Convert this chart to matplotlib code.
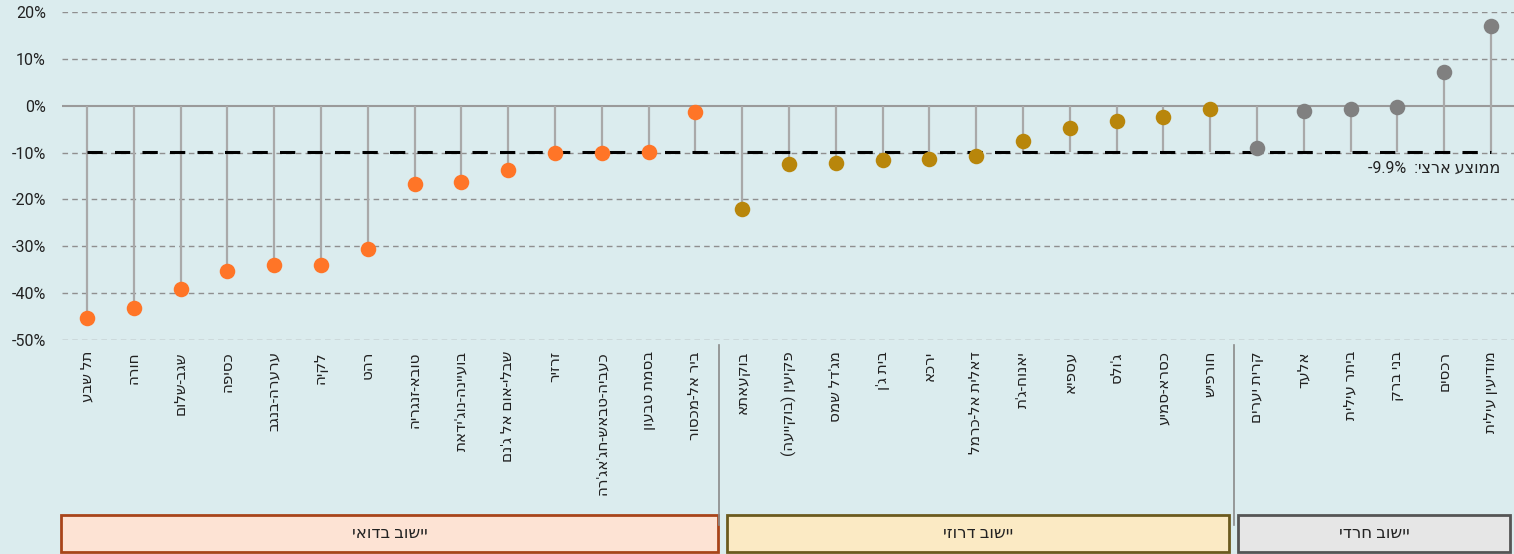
import matplotlib
matplotlib.use("Agg")
import matplotlib.pyplot as plt
from matplotlib.patches import Rectangle
import numpy as np

plt.rcParams['font.family'] = ['Roboto', 'DejaVu Sans']
plt.rcParams['axes.unicode_minus'] = False

# Localities by sector (change in %, relative to national average)
bedouin_names = ["תל שבע", "חורה", "שגב-שלום", "כסיפה", "ערערה-בנגב", "לקיה", "רהט",
                 "טובא-זנגריה", "בועיינה-נוג'ידאת", "שבלי-אום אל ג'נם", "זרזיר",
                 "כעביה-טבאש-חג'אג'רה", "בסמת טבעון", "ביר אל-מכסור"]
bedouin_values = [-45.4, -43.1, -39.2, -35.3, -34.0, -34.0, -30.6,
                  -16.7, -16.2, -13.8, -10.1, -10.0, -9.8, -1.4]

druze_names = ["בוקעאתא", "פקיעין (בוקייעה)", "מג'דל שמס", "בית ג'ן", "ירכא",
               "דאלית אל-כרמל", "יאנוח-ג'ת", "עספיא", "ג'ולס", "כסרא-סמיע", "חורפיש"]
druze_values = [-22.1, -12.5, -12.3, -11.5, -11.4, -10.8, -7.5, -4.8, -3.2, -2.4, -0.7]

haredi_names = ["קרית יערים", "אלעד", "ביתר עילית", "בני ברק", "רכסים", "מודיעין עילית"]
haredi_values = [-9.0, -1.1, -0.6, -0.2, 7.3, 17.1]

group_titles = ["יישוב בדואי", "יישוב דרוזי", "יישוב חרדי"]
national_avg = -9.9

y_ticks = [20, 10, 0, -10, -20, -30, -40, -50]
y_tick_labels = ["20%", "10%", "0%", "-10%", "-20%", "-30%", "-40%", "-50%"]

bg = "#dbecee"
dot_colors = ["#ff7527", "#b8860b", "#808080"]
box_fill = ["#fde3d4", "#fbeac4", "#e6e6e6"]
box_edge = ["#a8441a", "#6b5a1e", "#555555"]

_mirror = str.maketrans("()", ")(")


def visual(s):
    """Right-to-left display order for a Hebrew string (mirrors brackets)."""
    return s[::-1].translate(_mirror)


avg_label = "-9.9%  " + visual("ממוצע ארצי:")

groups = [(bedouin_names, bedouin_values), (druze_names, druze_values),
          (haredi_names, haredi_values)]

fig = plt.figure(figsize=(15.14, 5.54), dpi=100, facecolor=bg)
W, H = 1514, 554
ax = fig.add_axes([62 / W, 1 - 340 / H, 1 - 62 / W, 328 / H])
ax.set_facecolor(bg)

names_all, x_all = [], []
start = 0
bounds = []
for gi, (names, vals) in enumerate(groups):
    xs = np.arange(start, start + len(names))
    vals = np.array(vals)
    lo = np.minimum(np.minimum(vals, 0), national_avg)
    hi = np.maximum(np.maximum(vals, 0), national_avg)
    ax.vlines(xs, lo, hi, color="#a9a9a9", lw=1.6, zorder=3)
    ax.scatter(xs, vals, s=125, color=dot_colors[gi], zorder=5, linewidths=0)
    names_all += names
    x_all += list(xs)
    bounds.append((start - 0.5, start + len(names) - 0.5))
    start += len(names)

n = len(names_all)
ax.set_xlim(-0.534, n - 1 + 0.49)
ax.set_ylim(-50, 20)

# grid
for y in y_ticks:
    if y == 0:
        ax.axhline(0, color="#9a9a9a", lw=1.5, zorder=2)
    else:
        ax.axhline(y, color="#8f8f8f", lw=1.0, ls=(0, (4, 3)), zorder=1)

# national average
ax.hlines(national_avg, 0, n - 1, color="black", lw=2.2, ls=(0, (5, 4)), zorder=4)
ax.text(n - 1 + 0.2, national_avg - 1.9, avg_label, ha="right", va="top",
        fontsize=11.5, color="#222222", zorder=6)

ax.set_yticks(y_ticks)
ax.set_yticklabels(y_tick_labels, fontsize=11.5, color="#222222")
ax.set_xticks(x_all)
ax.set_xticklabels([visual(s) for s in names_all], rotation=90, fontsize=11,
                   color="#222222", va="top", ha="center")
ax.tick_params(axis="both", length=0)
ax.tick_params(axis="x", pad=8)
ax.tick_params(axis="y", pad=11.5)
for s in ax.spines.values():
    s.set_visible(False)

trans = ax.get_xaxis_transform()
# separators between sectors
for (a, b) in bounds[:-1]:
    ax.plot([b, b], [-0.015, -0.565], transform=trans, color="#8a8a8a",
            lw=1.2, clip_on=False)

# sector boxes
insets = [(-0.05, 0.01), (0.17, 0.1), (0.09, 0.09)]
for gi, (a, b) in enumerate(bounds):
    l = a + insets[gi][0]
    r = b - insets[gi][1]
    rect = Rectangle((l, -0.645), r - l, 0.11, transform=trans,
                     facecolor=box_fill[gi], edgecolor=box_edge[gi], lw=2,
                     clip_on=False)
    ax.add_patch(rect)
    ax.text((l + r) / 2, -0.59, visual(group_titles[gi]), transform=trans,
            ha="center", va="center", fontsize=12, color="#222222")

fig.savefig("out.png", dpi=100, facecolor=bg)
